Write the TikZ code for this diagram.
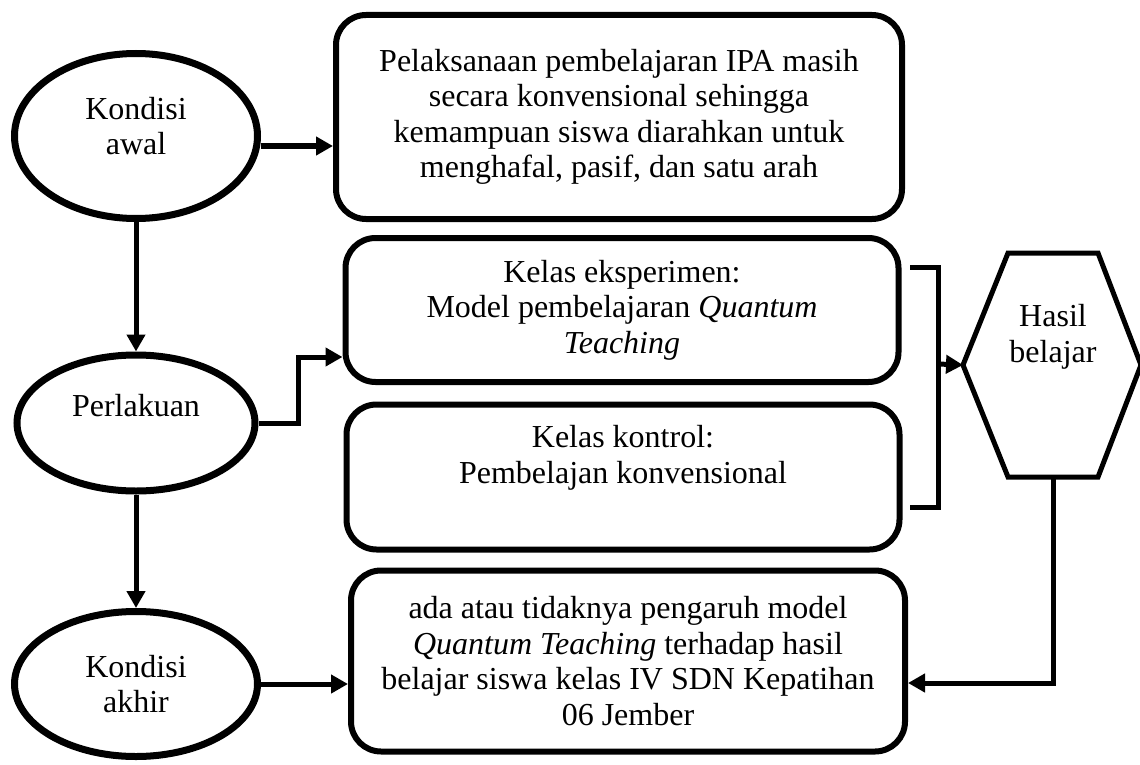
\documentclass[tikz,border=0pt]{standalone}
\usepackage{fontspec}
\setmainfont{Liberation Serif}
\usetikzlibrary{arrows.meta, shapes.geometric, calc}
\newcommand{\bodyfont}{\fontsize{32}{35.5}\selectfont}
\tikzset{
    ovalnode/.style={ellipse, draw, line width=7pt, inner sep=0pt, align=center, font=\bodyfont},
    roundbox/.style={rectangle, draw, rounded corners=30pt, line width=6pt, inner sep=0pt, align=center, font=\bodyfont},
    arrow/.style={-{Triangle[length=17pt, width=18pt]}, line width=5pt},
    plainline/.style={line width=5pt},
}
\begin{document}
\begin{tikzpicture}[x=1pt, y=-1pt]
                \useasboundingbox (0,0) rectangle (1140,765);

                % Kondisi (kolom kiri)
                \node[ovalnode, minimum width=243pt, minimum height=165pt] (awal) at (136,136) {Kondisi\\awal\\[-15pt]\mbox{}};
                \node[ovalnode, minimum width=238pt, minimum height=136pt] (perlakuan) at (136,423) {Perlakuan\\\mbox{}};
                \node[ovalnode, minimum width=243pt, minimum height=145pt] (akhir) at (136,684) {Kondisi\\akhir};

                % Kotak keterangan
                \node[roundbox, minimum width=566pt, minimum height=204pt] (masalah) at (619,117) {Pelaksanaan pembelajaran IPA masih\\secara konvensional sehingga\\kemampuan siswa diarahkan untuk\\menghafal, pasif, dan satu arah};
                \node[roundbox, minimum width=553pt, minimum height=144pt] (eksperimen) at (622,310) {Kelas eksperimen:\\Model pembelajaran \textit{Quantum}\\\textit{Teaching}};
                \node[roundbox, minimum width=553pt, minimum height=145pt] (kontrol) at (623,477) {Kelas kontrol:\\Pembelajan konvensional\\[10pt]\mbox{}};
                \node[roundbox, minimum width=554pt, minimum height=181pt] (hasilakhir) at (628,661) {ada atau tidaknya pengaruh model\\\textit{Quantum Teaching} terhadap hasil\\belajar siswa kelas IV SDN Kepatihan\\06 Jember};

                % Segi enam hasil belajar
                \coordinate (hexW) at (963,365);
                \coordinate (hexS) at (1053,477);
                \draw[plainline] (hexW) -- (1008,253) -- (1098,253) -- (1141,365) -- (1098,477) -- (1008,477) -- cycle;
                \node[font=\bodyfont, align=center] (hasil) at (1053,337) {Hasil\\belajar};

                % Kurung kelas eksperimen dan kontrol
                \draw[plainline] (910,267) -- (938,267) -- (938,507) -- (910,507);
                \coordinate (kurung) at (938,364);

                % Panah
                \draw[arrow] ([yshift=-10pt]awal.east) -- ([yshift=-10pt]awal.east -| masalah.west);
                \draw[arrow] (awal.south) -- (perlakuan.north);
                \draw[arrow] (perlakuan.south) -- (akhir.north);
                \draw[arrow] (perlakuan.east) -- ++(40,0) |- ([yshift=-47pt]eksperimen.west);
                \draw[arrow] (kurung) -- (hexW);
                \draw[arrow] (akhir.east) -- (akhir.east -| hasilakhir.west);
                \draw[arrow] (hexS) |- ([yshift=-22pt]hasilakhir.east);

            \end{tikzpicture}
\end{document}
